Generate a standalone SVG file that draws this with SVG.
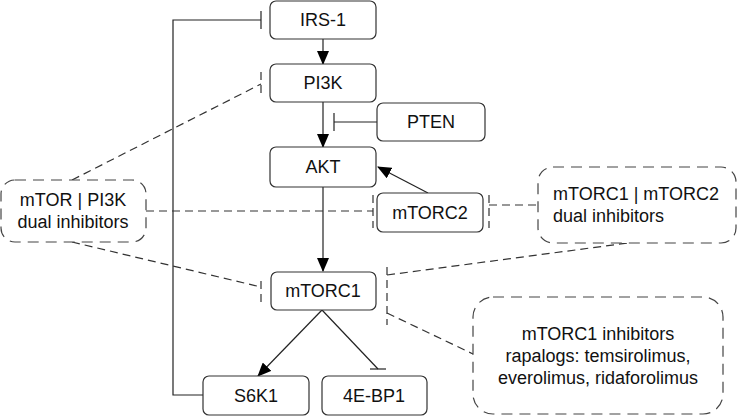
<svg xmlns="http://www.w3.org/2000/svg" width="738" height="416" viewBox="0 0 738 416">
<defs>
<style>
.n rect{fill:#fff;stroke:#333;stroke-width:1.2}
.d rect{fill:#fff;stroke:#444;stroke-width:1.2;stroke-dasharray:11 7}
text{font-family:"Liberation Sans",Arial,sans-serif;font-size:18px;fill:#111;text-anchor:middle}
.c line,.c path{stroke:#222;stroke-width:1.2;fill:none}
.c .ds{stroke:#333;stroke-dasharray:8 5}
</style>
<marker id="ah" markerWidth="14" markerHeight="12" refX="13" refY="6" orient="auto" markerUnits="userSpaceOnUse"><path d="M0,0 L14,6 L0,12 Z" fill="#000"/></marker>
</defs>
<rect width="738" height="416" fill="#fff"/>
<g class="c" id="connectors">
<line x1="323" y1="39" x2="323" y2="64" marker-end="url(#ah)"/>
<line x1="323" y1="102" x2="323" y2="147" marker-end="url(#ah)"/>
<line x1="377" y1="122" x2="334" y2="122"/>
<line x1="334" y1="113" x2="334" y2="131"/>
<line x1="323" y1="187" x2="323" y2="271" marker-end="url(#ah)"/>
<line x1="428" y1="193" x2="378" y2="167" marker-end="url(#ah)"/>
<line x1="322" y1="310" x2="258" y2="376" marker-end="url(#ah)"/>
<line x1="322" y1="310" x2="378" y2="369"/>
<line x1="370" y1="369" x2="386" y2="369"/>
<path d="M203,395 H173 V20 H261"/>
<line x1="261" y1="11" x2="261" y2="29"/>
<line class="ds" x1="72" y1="180" x2="261" y2="84"/>
<line class="ds" x1="261" y1="72" x2="261" y2="96"/>
<line class="ds" x1="146" y1="211" x2="373" y2="211"/>
<line class="ds" x1="373" y1="195" x2="373" y2="228"/>
<line class="ds" x1="489" y1="205" x2="538" y2="205"/>
<line class="ds" x1="489" y1="195" x2="489" y2="228"/>
<line class="ds" x1="72" y1="242" x2="261" y2="287"/>
<line class="ds" x1="261" y1="281" x2="261" y2="303"/>
<line class="ds" x1="387" y1="267" x2="387" y2="325"/>
<line class="ds" x1="387" y1="275" x2="628" y2="243"/>
<line class="ds" x1="387" y1="313" x2="473" y2="354"/>
</g>
<g id="irs1" class="n"><rect x="270" y="1" width="106" height="38" rx="6"/><text x="323" y="26">IRS-1</text></g>
<g id="pi3k" class="n"><rect x="270" y="64" width="106" height="38" rx="6"/><text x="323" y="89">PI3K</text></g>
<g id="pten" class="n"><rect x="377" y="103" width="108" height="38" rx="6"/><text x="431" y="128">PTEN</text></g>
<g id="akt" class="n"><rect x="270" y="147" width="106" height="40" rx="6"/><text x="323" y="173">AKT</text></g>
<g id="mtorc2" class="n"><rect x="377" y="193" width="106" height="39" rx="6"/><text x="430" y="219">mTORC2</text></g>
<g id="mtorc1" class="n"><rect x="271" y="272" width="105" height="38" rx="6"/><text x="323" y="297">mTORC1</text></g>
<g id="s6k1" class="n"><rect x="203" y="376" width="106" height="39" rx="6"/><text x="256" y="402">S6K1</text></g>
<g id="4ebp1" class="n"><rect x="322" y="376" width="105" height="39" rx="6"/><text x="374" y="402">4E-BP1</text></g>
<g id="dual-mtor-pi3k" class="d"><rect x="1" y="180" width="145" height="62" rx="14"/><text x="73" y="206">mTOR | PI3K</text><text x="73" y="228">dual inhibitors</text></g>
<g id="dual-mtorc" class="d"><rect x="538" y="167" width="198" height="76" rx="15"/><text x="553" y="200" style="text-anchor:start">mTORC1 | mTORC2</text><text x="553" y="222" style="text-anchor:start">dual inhibitors</text></g>
<g id="mtorc1-inhibitors" class="d"><rect x="473" y="297" width="250" height="117" rx="20"/><text x="598" y="340">mTORC1 inhibitors</text><text x="598" y="362">rapalogs: temsirolimus,</text><text x="598" y="384">everolimus, ridaforolimus</text></g>
</svg>
